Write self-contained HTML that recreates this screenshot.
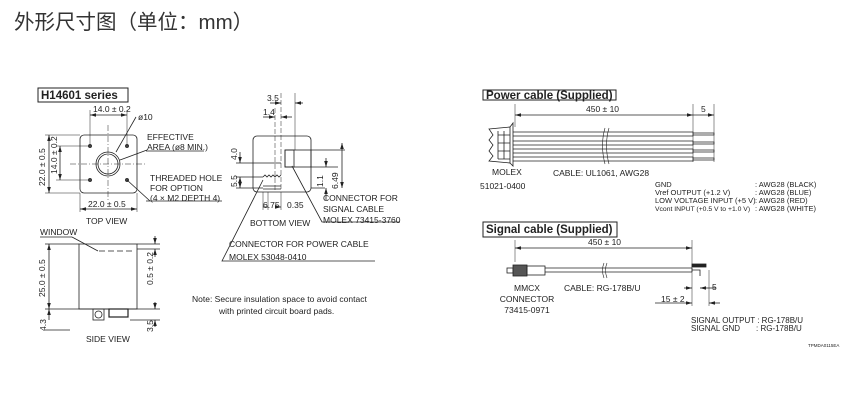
<!DOCTYPE html>
<html><head><meta charset="utf-8"><style>
html,body{margin:0;padding:0;background:#fff;width:850px;height:400px;overflow:hidden}
svg{display:block}
text{font-family:"Liberation Sans","Noto Sans CJK SC",sans-serif;fill:#222}
</style></head><body>
<svg width="850" height="400" viewBox="0 0 850 400" xmlns="http://www.w3.org/2000/svg">
<defs>
<marker id="a" markerWidth="6" markerHeight="6" refX="6" refY="3" orient="auto-start-reverse" markerUnits="userSpaceOnUse"><path d="M0,1.2 L6,3 L0,4.8z" fill="#222"/></marker>
</defs>
<text x="14" y="29" font-size="20.5" style="fill:#333">外形尺寸图（单位：mm）</text>

<g stroke="#222" stroke-width="0.8" fill="none">
<rect x="38" y="88" width="90" height="14" stroke-width="1"/>
<rect x="80" y="135" width="57" height="58" rx="4"/>
<circle cx="108" cy="164" r="12"/><circle cx="108" cy="164" r="10"/>
<path d="M108 125V200M70 164H145" stroke-dasharray="6,2,1,2" stroke-width="0.5"/>
<g fill="#444" stroke-width="0.5">
<circle cx="90" cy="146" r="1.8"/><circle cx="127" cy="146" r="1.8"/><circle cx="90" cy="180" r="1.8"/><circle cx="127" cy="180" r="1.8"/>
</g>
<line x1="90" y1="110" x2="90" y2="146" stroke-width="0.5"/><line x1="127" y1="110" x2="127" y2="146" stroke-width="0.5"/>
<line x1="90" y1="115" x2="127" y2="115" marker-start="url(#a)" marker-end="url(#a)"/>
<line x1="80" y1="193" x2="80" y2="212" stroke-width="0.5"/><line x1="137" y1="193" x2="137" y2="212" stroke-width="0.5"/>
<line x1="80" y1="209" x2="137" y2="209" marker-start="url(#a)" marker-end="url(#a)"/>
<line x1="45" y1="135" x2="80" y2="135" stroke-width="0.5"/><line x1="45" y1="193" x2="80" y2="193" stroke-width="0.5"/>
<line x1="49" y1="135" x2="49" y2="193" marker-start="url(#a)" marker-end="url(#a)"/>
<line x1="56" y1="146" x2="90" y2="146" stroke-width="0.5"/><line x1="56" y1="180" x2="90" y2="180" stroke-width="0.5"/>
<line x1="60" y1="146" x2="60" y2="180" marker-start="url(#a)" marker-end="url(#a)"/>
<path d="M136 117L116 152"/><path d="M147 150L120 160"/><path d="M150 201L127 180"/>
<path d="M146 151H204M146 201H222"/>
<rect x="253" y="136" width="58" height="56" rx="4"/>
<path d="M281 93V190M275 108V190" stroke-dasharray="5,2" stroke-width="0.5"/>
<path d="M295 93V150" stroke-width="0.5"/>
<line x1="270" y1="103" x2="281" y2="103" marker-end="url(#a)"/><line x1="295" y1="103" x2="303" y2="103" marker-start="url(#a)"/>
<line x1="263" y1="117" x2="275" y2="117" marker-end="url(#a)"/><line x1="281" y1="117" x2="292" y2="117" marker-start="url(#a)"/>
<rect x="285" y="150" width="26" height="17"/><rect x="285" y="150" width="9" height="17"/>
<path d="M311 150H345M311 167H338M311 188H325"/>
<line x1="342" y1="143" x2="342" y2="188" marker-start="url(#a)" marker-end="url(#a)"/>
<line x1="326" y1="158" x2="326" y2="167" marker-end="url(#a)"/><line x1="326" y1="200" x2="326" y2="188" marker-end="url(#a)"/>
<path d="M263 177l2 -2 2 2 2 -2 2 2 2 -2 2 2 2 -2 2 2 2 -2M263 186h18M263 189h18"/>
<path d="M236 163H281M236 177H263M236 188H263"/>
<line x1="240" y1="152" x2="240" y2="163" marker-end="url(#a)"/>
<line x1="240" y1="177" x2="240" y2="188" marker-start="url(#a)" marker-end="url(#a)"/>
<path d="M263 192V210M281 192V210M268 192V210" stroke-width="0.5"/>
<line x1="263" y1="207" x2="268" y2="207"/><line x1="276" y1="207" x2="281" y2="207" marker-end="url(#a)"/>
<path d="M292 166L322 222H400M263 180L222 261H375"/>
<rect x="79" y="244" width="58" height="65"/>
<path d="M99 251H135" stroke-dasharray="6,3"/><path d="M72 237L98 251"/><path d="M40 237H72"/>
<path d="M45 244H79M45 309H160M45 330H70M137 244H160M137 249H160M130 320H160"/>
<line x1="49" y1="244" x2="49" y2="309" marker-start="url(#a)" marker-end="url(#a)"/>
<line x1="49" y1="320" x2="49" y2="309" marker-end="url(#a)"/>
<line x1="155" y1="236" x2="155" y2="244" marker-end="url(#a)"/><line x1="155" y1="257" x2="155" y2="249" marker-end="url(#a)"/>
<line x1="155" y1="302" x2="155" y2="309" marker-end="url(#a)"/><line x1="155" y1="327" x2="155" y2="320" marker-end="url(#a)"/>
<rect x="93" y="309" width="11" height="11"/><circle cx="98.5" cy="314.5" r="3.5"/>
<rect x="109" y="309" width="19" height="8" stroke-width="1.2"/>
<rect x="483" y="90" width="133" height="10" stroke-width="1"/>
<path d="M515 104V127M693 104V162M714 104V162" stroke-width="0.5"/>
<line x1="515" y1="115" x2="693" y2="115" marker-start="url(#a)" marker-end="url(#a)"/>
<line x1="693" y1="115" x2="714" y2="115" marker-end="url(#a)"/>
<path d="M489 129L510 127V163L489 161L493 156L489 151L493 145L489 140L493 135L489 129Z"/>
<path d="M510 127L513 123V166L510 163"/>
<path d="M498 131V159M504 131V159M498 135H510M498 143H510M498 151H510M498 159H510"/>
<g stroke-width="0.7">
<path d="M513 132H693V136H513M513 141H693V145H513M513 149H693V153H513M513 157H693V161H513"/>
<path d="M693 133H714V135H693M693 142H714V144H693M693 150H714V152H693M693 158H714V160H693"/>
</g>
<path d="M605 128Q600 145 605 164M609 128Q604 145 609 164" stroke-width="0.6"/>
<rect x="483" y="222" width="134" height="15" stroke-width="1"/>
<path d="M515 240V262M692 240V283M709 270V283" stroke-width="0.5"/>
<line x1="515" y1="248" x2="692" y2="248" marker-start="url(#a)" marker-end="url(#a)"/>
<rect x="507" y="268" width="6" height="5"/><rect x="513" y="265" width="14" height="11" fill="#555"/>
<rect x="527" y="266" width="18" height="9"/>
<path d="M545 268H692M545 272H692"/>
<path d="M604 263Q601 270 604 278M607 263Q604 270 607 278" stroke-width="0.6"/>
<rect x="692" y="264" width="14" height="3" fill="#222"/>
<path d="M692 268V272M692 270H700V276"/>
<line x1="684" y1="288" x2="692" y2="288" marker-end="url(#a)"/><line x1="716" y1="288" x2="700" y2="288" marker-end="url(#a)"/>
<path d="M692 283V306M709 283V306" stroke-width="0.5"/>
<line x1="655" y1="303" x2="692" y2="303" marker-end="url(#a)"/><line x1="720" y1="303" x2="709" y2="303" marker-end="url(#a)"/>
</g>

<g font-size="8.5">
<text x="41" y="99" font-size="11.5" font-weight="bold">H14601 series</text>
<text x="93" y="112">14.0 ± 0.2</text>
<text x="138" y="120">ø10</text>
<text x="147" y="140">EFFECTIVE</text>
<text x="147" y="150">AREA (ø8 MIN.)</text>
<text x="150" y="181">THREADED HOLE</text>
<text x="150" y="191">FOR OPTION</text>
<text x="150" y="201">(4 × M2 DEPTH 4)</text>
<text x="88" y="207">22.0 ± 0.5</text>
<text x="86" y="224">TOP VIEW</text>
<text transform="translate(45,186) rotate(-90)">22.0 ± 0.5</text>
<text transform="translate(57,174) rotate(-90)">14.0 ± 0.2</text>
<text x="267" y="101">3.5</text>
<text x="263" y="115">1.4</text>
<text transform="translate(237,160) rotate(-90)">4.0</text>
<text transform="translate(237,187) rotate(-90)">5.5</text>
<text transform="translate(323,187) rotate(-90)">1.1</text>
<text transform="translate(338,189) rotate(-90)">6.49</text>
<text x="263" y="208">6.75</text><text x="287" y="208">0.35</text>
<text x="250" y="226">BOTTOM VIEW</text>
<text x="323" y="201">CONNECTOR FOR</text>
<text x="323" y="212">SIGNAL CABLE</text>
<text x="323" y="223">MOLEX 73415-3760</text>
<text x="229" y="247">CONNECTOR FOR POWER CABLE</text>
<text x="229" y="260">MOLEX 53048-0410</text>
<text x="40" y="235">WINDOW</text>
<text transform="translate(45,297) rotate(-90)">25.0 ± 0.5</text>
<text transform="translate(153,285) rotate(-90)">0.5 ± 0.2</text>
<text transform="translate(46,331) rotate(-90)">4.3</text>
<text transform="translate(153,332) rotate(-90)">3.5</text>
<text x="86" y="342">SIDE VIEW</text>
<text x="192" y="302">Note: Secure insulation space to avoid contact</text>
<text x="219" y="314">with printed circuit board pads.</text>

<text x="486" y="99" font-size="11.5" font-weight="bold">Power cable (Supplied)</text>
<text x="586" y="112">450 ± 10</text>
<text x="701" y="112">5</text>
<text x="492" y="175">MOLEX</text>
<text x="480" y="189">51021-0400</text>
<text x="553" y="176">CABLE: UL1061, AWG28</text>
<g font-size="7.5">
<text x="655" y="187">GND</text><text x="755" y="187">: AWG28 (BLACK)</text>
<text x="655" y="195">Vref OUTPUT (+1.2 V)</text><text x="755" y="195">: AWG28 (BLUE)</text>
<text x="655" y="203">LOW VOLTAGE INPUT (+5 V)</text><text x="755" y="203">: AWG28 (RED)</text>
<text x="655" y="211" font-size="6.8">Vcont INPUT (+0.5 V to +1.0 V)</text><text x="755" y="211">: AWG28 (WHITE)</text>
</g>
<text x="486" y="233" font-size="11.5" font-weight="bold">Signal cable (Supplied)</text>
<text x="588" y="245">450 ± 10</text>
<text x="527" y="291" text-anchor="middle">MMCX</text>
<text x="527" y="302" text-anchor="middle">CONNECTOR</text>
<text x="527" y="313" text-anchor="middle">73415-0971</text>
<text x="564" y="291">CABLE: RG-178B/U</text>
<text x="712" y="290">5</text>
<text x="661" y="302">15 ± 2</text>
<text x="691" y="323" font-size="8">SIGNAL OUTPUT : RG-178B/U</text>
<text x="691" y="331" font-size="8">SIGNAL GND</text><text x="756" y="331" font-size="8">: RG-178B/U</text>
<text x="808" y="347" font-size="4.5">TPMDA0115EA</text>
</g>
</svg>
</body></html>
